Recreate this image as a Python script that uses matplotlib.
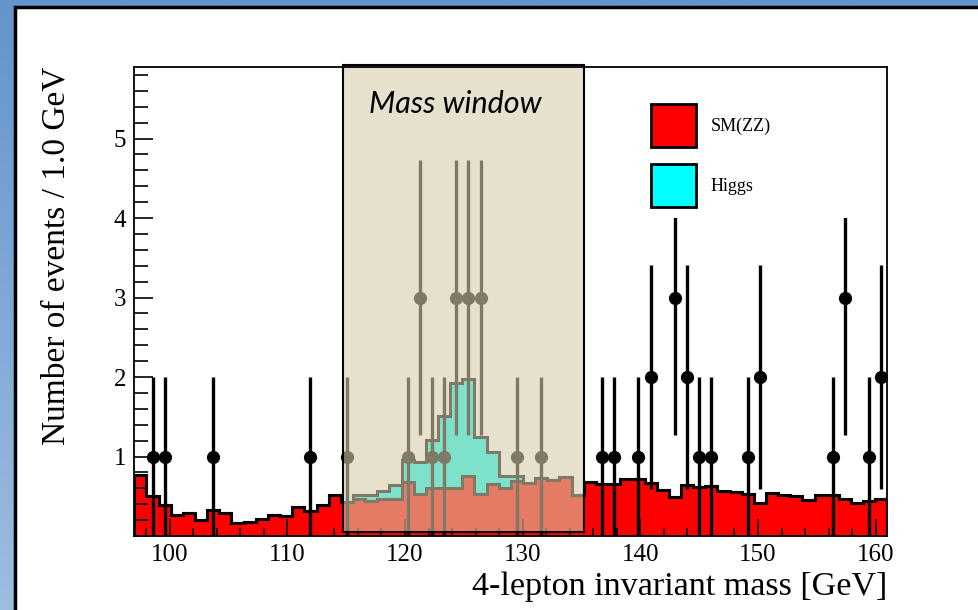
import matplotlib
matplotlib.use("Agg")  # Non-interactive backend
import matplotlib.pyplot as plt
import numpy as np
from matplotlib.patches import Patch, Rectangle
from matplotlib.ticker import MultipleLocator

# Histogram binning: 62 bins between 97 and 161 GeV
mass_lo, mass_hi, n_bins = 97.0, 161.0, 62

# Expected SM(ZZ) background per bin
sm_zz = [
    0.77, 0.50, 0.39, 0.26, 0.29, 0.20, 0.33, 0.29, 0.16, 0.18,
    0.22, 0.26, 0.25, 0.37, 0.31, 0.39, 0.52, 0.43, 0.47, 0.44,
    0.46, 0.46, 0.68, 0.53, 0.61, 0.60, 0.60, 0.76, 0.53, 0.65,
    0.61, 0.69, 0.67, 0.73, 0.70, 0.74, 0.52, 0.68, 0.66, 0.66,
    0.72, 0.72, 0.67, 0.58, 0.49, 0.64, 0.62, 0.63, 0.57, 0.55,
    0.53, 0.41, 0.54, 0.52, 0.50, 0.45, 0.52, 0.52, 0.46, 0.42,
    0.44, 0.46,
]

# Expected Higgs signal per bin (stacked on top of SM)
higgs = [
    0.00, 0.00, 0.00, 0.00, 0.00, 0.00, 0.00, 0.00, 0.00, 0.00,
    0.00, 0.00, 0.00, 0.00, 0.00, 0.00, 0.00, 0.00, 0.05, 0.07,
    0.11, 0.18, 0.27, 0.40, 0.60, 0.91, 1.33, 1.22, 0.71, 0.41,
    0.15, 0.06, 0.00, 0.00, 0.00, 0.00, 0.00, 0.00, 0.00, 0.00,
    0.00, 0.00, 0.00, 0.00, 0.00, 0.00, 0.00, 0.00, 0.00, 0.00,
    0.00, 0.00, 0.00, 0.00, 0.00, 0.00, 0.00, 0.00, 0.00, 0.00,
    0.00, 0.00,
]

# Observed events per bin
data_counts = [
    0, 1, 1, 0, 0, 0, 1, 0, 0, 0,
    0, 0, 0, 0, 1, 0, 0, 1, 0, 0,
    0, 0, 1, 3, 1, 1, 3, 3, 3, 0,
    0, 1, 0, 1, 0, 0, 0, 0, 1, 1,
    0, 1, 2, 0, 3, 2, 1, 1, 0, 0,
    1, 2, 0, 0, 0, 0, 0, 1, 3, 0,
    1, 2,
]

window_lo, window_hi = 114.7, 135.2

plt.rcParams["font.family"] = ["Liberation Serif", "DejaVu Serif"]

fig = plt.figure(figsize=(9.79, 6.10), dpi=100)

# Slide background: blue gradient with a white panel on top
bg = fig.add_axes([0, 0, 1, 1], zorder=-10)
grad = np.linspace(0, 1, 256).reshape(-1, 1)
bg.imshow(grad, aspect="auto", extent=(0, 979, 610, 0),
          cmap=matplotlib.colors.LinearSegmentedColormap.from_list(
              "slide", ["#6494cb", "#9dbde2"]))
bg.add_patch(Rectangle((15, 7), 1000, 700, facecolor="white",
                       edgecolor="black", linewidth=2.5))
bg.set_xlim(0, 979)
bg.set_ylim(610, 0)
bg.axis("off")

ax = fig.add_axes([0.1372, 0.1213, 0.7693, 0.7689])

edges = np.linspace(mass_lo, mass_hi, n_bins + 1)
sm = np.array(sm_zz)
stack = sm + np.array(higgs)

ax.stairs(sm, edges, baseline=0, fill=True, color="#ff0000", zorder=1)
ax.stairs(stack, edges, baseline=sm, fill=True, color="#00ffff", zorder=1)
ax.stairs(stack, edges, baseline=0, color="black", linewidth=2.2, zorder=2)
ax.stairs(sm, edges, baseline=0, color="black", linewidth=2.2, zorder=2)

# Data points with sqrt(N) errors
counts = np.array(data_counts, dtype=float)
centers = 0.5 * (edges[:-1] + edges[1:])
has = counts > 0
ax.errorbar(centers[has], counts[has], yerr=np.sqrt(counts[has]),
            fmt="o", color="black", markersize=8.5, elinewidth=2.4,
            capsize=0, zorder=3)

# legend pad is opaque white (it hides the top of some error bars)
ax.add_patch(Rectangle((0.62, 4.0 / 5.9), 0.375, 1 - 4.0 / 5.9 - 0.004,
                       transform=ax.transAxes, facecolor="white",
                       edgecolor="none", zorder=4))

# Mass window overlay (semi transparent box)
ax.add_patch(Rectangle((window_lo, 0.055), window_hi - window_lo, 5.93 - 0.055,
                       facecolor=(212 / 255, 205 / 255, 170 / 255), alpha=0.6,
                       edgecolor="none", zorder=5, clip_on=False))
ax.add_patch(Rectangle((window_lo, 0.055), window_hi - window_lo, 5.93 - 0.055,
                       fill=False, edgecolor="black", linewidth=1.5,
                       zorder=5, clip_on=False))
ax.text(124.3, 5.43, "Mass window", fontsize=22, style="italic",
        family=["Lato", "DejaVu Sans"], ha="center", va="center", zorder=6)

ax.set_xlim(mass_lo, mass_hi)
ax.set_ylim(0, 5.9)
ax.xaxis.set_major_locator(MultipleLocator(10))
ax.xaxis.set_minor_locator(MultipleLocator(2))
ax.yaxis.set_major_locator(MultipleLocator(1))
ax.yaxis.set_minor_locator(MultipleLocator(0.2))
ax.tick_params(which="both", direction="in", labelsize=18, width=1.2)
ax.tick_params(axis="x", which="major", length=12, pad=6)
ax.tick_params(axis="x", which="minor", length=6)
ax.tick_params(axis="y", which="major", length=14, pad=6)
ax.tick_params(axis="y", which="minor", length=10)
ax.set_yticks([1, 2, 3, 4, 5])
for s in ax.spines.values():
    s.set_linewidth(1.3)
    s.set_zorder(7)

ax.set_xlabel("4-lepton invariant mass [GeV]", fontsize=24.6, loc="right")
ax.set_ylabel("Number of events / 1.0 GeV", fontsize=24, loc="top")
ax.yaxis.set_label_coords(-0.083, 1.0)

handles = [
    Patch(facecolor="#ff0000", edgecolor="black", linewidth=2, label="SM(ZZ)"),
    Patch(facecolor="#00ffff", edgecolor="black", linewidth=2, label="Higgs"),
]
leg = ax.legend(handles=handles, loc="upper left", bbox_to_anchor=(0.686, 0.921),
                frameon=False, fontsize=13, handlelength=2.5, handleheight=3.3,
                handletextpad=0.8, labelspacing=0.94, borderpad=0,
                borderaxespad=0)
leg.set_zorder(8)

fig.savefig("out.png", dpi=100)
